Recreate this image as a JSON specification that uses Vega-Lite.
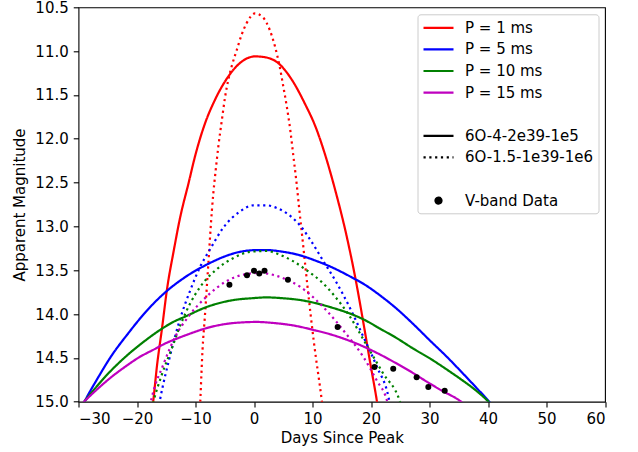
{
  "$schema": "https://vega.github.io/schema/vega-lite/v6.json",
  "width": 526.5,
  "height": 394.4,
  "autosize": {"type": "none"},
  "padding": {"left": 78.5, "top": 7.3, "right": 33, "bottom": 50.3},
  "background": "white",
  "config": {
    "view": {"stroke": "black", "strokeWidth": 1.1},
    "font": "DejaVu Sans",
    "axis": {
      "grid": false, "domain": false,
      "tickColor": "black", "tickWidth": 1.1, "tickSize": 5.25,
      "labelColor": "black", "labelFont": "DejaVu Sans", "labelFontSize": 15,
      "titleColor": "black", "titleFont": "DejaVu Sans", "titleFontSize": 15, "titleFontWeight": "normal"
    }
  },
  "datasets": {
    "curves": [
      {"P":"P = 1 ms","model":"6O-4-2e39-1e5","day":-17.6,"mag":15.2},
      {"P":"P = 1 ms","model":"6O-4-2e39-1e5","day":-17.2,"mag":14.98},
      {"P":"P = 1 ms","model":"6O-4-2e39-1e5","day":-16.6,"mag":14.60},
      {"P":"P = 1 ms","model":"6O-4-2e39-1e5","day":-15.7,"mag":14.15},
      {"P":"P = 1 ms","model":"6O-4-2e39-1e5","day":-14.9,"mag":13.73},
      {"P":"P = 1 ms","model":"6O-4-2e39-1e5","day":-13.7,"mag":13.27},
      {"P":"P = 1 ms","model":"6O-4-2e39-1e5","day":-12.6,"mag":12.89},
      {"P":"P = 1 ms","model":"6O-4-2e39-1e5","day":-11.2,"mag":12.51},
      {"P":"P = 1 ms","model":"6O-4-2e39-1e5","day":-10.0,"mag":12.18},
      {"P":"P = 1 ms","model":"6O-4-2e39-1e5","day":-8.4,"mag":11.83},
      {"P":"P = 1 ms","model":"6O-4-2e39-1e5","day":-6.7,"mag":11.56},
      {"P":"P = 1 ms","model":"6O-4-2e39-1e5","day":-4.4,"mag":11.29},
      {"P":"P = 1 ms","model":"6O-4-2e39-1e5","day":-2.1,"mag":11.12},
      {"P":"P = 1 ms","model":"6O-4-2e39-1e5","day":0.2,"mag":11.06},
      {"P":"P = 1 ms","model":"6O-4-2e39-1e5","day":1.9,"mag":11.07},
      {"P":"P = 1 ms","model":"6O-4-2e39-1e5","day":4.2,"mag":11.14},
      {"P":"P = 1 ms","model":"6O-4-2e39-1e5","day":6.5,"mag":11.33},
      {"P":"P = 1 ms","model":"6O-4-2e39-1e5","day":8.7,"mag":11.60},
      {"P":"P = 1 ms","model":"6O-4-2e39-1e5","day":10.5,"mag":11.86},
      {"P":"P = 1 ms","model":"6O-4-2e39-1e5","day":12.1,"mag":12.17},
      {"P":"P = 1 ms","model":"6O-4-2e39-1e5","day":13.9,"mag":12.59},
      {"P":"P = 1 ms","model":"6O-4-2e39-1e5","day":15.8,"mag":13.10},
      {"P":"P = 1 ms","model":"6O-4-2e39-1e5","day":17.3,"mag":13.58},
      {"P":"P = 1 ms","model":"6O-4-2e39-1e5","day":18.7,"mag":14.10},
      {"P":"P = 1 ms","model":"6O-4-2e39-1e5","day":19.9,"mag":14.57},
      {"P":"P = 1 ms","model":"6O-4-2e39-1e5","day":21.0,"mag":14.99},
      {"P":"P = 1 ms","model":"6O-4-2e39-1e5","day":21.3,"mag":15.12},

      {"P":"P = 1 ms","model":"6O-1.5-1e39-1e6","day":-9.3,"mag":15.2},
      {"P":"P = 1 ms","model":"6O-1.5-1e39-1e6","day":-9.15,"mag":14.95},
      {"P":"P = 1 ms","model":"6O-1.5-1e39-1e6","day":-8.8,"mag":14.41},
      {"P":"P = 1 ms","model":"6O-1.5-1e39-1e6","day":-8.4,"mag":14.03},
      {"P":"P = 1 ms","model":"6O-1.5-1e39-1e6","day":-7.8,"mag":13.42},
      {"P":"P = 1 ms","model":"6O-1.5-1e39-1e6","day":-7.2,"mag":12.82},
      {"P":"P = 1 ms","model":"6O-1.5-1e39-1e6","day":-6.95,"mag":12.62},
      {"P":"P = 1 ms","model":"6O-1.5-1e39-1e6","day":-6.55,"mag":12.36},
      {"P":"P = 1 ms","model":"6O-1.5-1e39-1e6","day":-6.1,"mag":12.09},
      {"P":"P = 1 ms","model":"6O-1.5-1e39-1e6","day":-5.5,"mag":11.79},
      {"P":"P = 1 ms","model":"6O-1.5-1e39-1e6","day":-4.96,"mag":11.53},
      {"P":"P = 1 ms","model":"6O-1.5-1e39-1e6","day":-4.4,"mag":11.33},
      {"P":"P = 1 ms","model":"6O-1.5-1e39-1e6","day":-3.8,"mag":11.17},
      {"P":"P = 1 ms","model":"6O-1.5-1e39-1e6","day":-2.96,"mag":10.99},
      {"P":"P = 1 ms","model":"6O-1.5-1e39-1e6","day":-2.1,"mag":10.81},
      {"P":"P = 1 ms","model":"6O-1.5-1e39-1e6","day":-1.25,"mag":10.68},
      {"P":"P = 1 ms","model":"6O-1.5-1e39-1e6","day":0.17,"mag":10.57},
      {"P":"P = 1 ms","model":"6O-1.5-1e39-1e6","day":1.6,"mag":10.62},
      {"P":"P = 1 ms","model":"6O-1.5-1e39-1e6","day":2.7,"mag":10.76},
      {"P":"P = 1 ms","model":"6O-1.5-1e39-1e6","day":3.6,"mag":10.95},
      {"P":"P = 1 ms","model":"6O-1.5-1e39-1e6","day":4.4,"mag":11.18},
      {"P":"P = 1 ms","model":"6O-1.5-1e39-1e6","day":5.0,"mag":11.40},
      {"P":"P = 1 ms","model":"6O-1.5-1e39-1e6","day":5.6,"mag":11.63},
      {"P":"P = 1 ms","model":"6O-1.5-1e39-1e6","day":6.2,"mag":11.90},
      {"P":"P = 1 ms","model":"6O-1.5-1e39-1e6","day":6.7,"mag":12.18},
      {"P":"P = 1 ms","model":"6O-1.5-1e39-1e6","day":7.3,"mag":12.52},
      {"P":"P = 1 ms","model":"6O-1.5-1e39-1e6","day":7.7,"mag":12.78},
      {"P":"P = 1 ms","model":"6O-1.5-1e39-1e6","day":8.3,"mag":13.15},
      {"P":"P = 1 ms","model":"6O-1.5-1e39-1e6","day":9.2,"mag":13.72},
      {"P":"P = 1 ms","model":"6O-1.5-1e39-1e6","day":10.2,"mag":14.30},
      {"P":"P = 1 ms","model":"6O-1.5-1e39-1e6","day":11.6,"mag":14.99},
      {"P":"P = 1 ms","model":"6O-1.5-1e39-1e6","day":11.9,"mag":15.15},

      {"P":"P = 5 ms","model":"6O-4-2e39-1e5","day":-29.5,"mag":15.07},
      {"P":"P = 5 ms","model":"6O-4-2e39-1e5","day":-28.9,"mag":14.99},
      {"P":"P = 5 ms","model":"6O-4-2e39-1e5","day":-26.7,"mag":14.73},
      {"P":"P = 5 ms","model":"6O-4-2e39-1e5","day":-24.4,"mag":14.48},
      {"P":"P = 5 ms","model":"6O-4-2e39-1e5","day":-21.5,"mag":14.22},
      {"P":"P = 5 ms","model":"6O-4-2e39-1e5","day":-18.7,"mag":13.99},
      {"P":"P = 5 ms","model":"6O-4-2e39-1e5","day":-15.3,"mag":13.76},
      {"P":"P = 5 ms","model":"6O-4-2e39-1e5","day":-11.8,"mag":13.58},
      {"P":"P = 5 ms","model":"6O-4-2e39-1e5","day":-7.9,"mag":13.43},
      {"P":"P = 5 ms","model":"6O-4-2e39-1e5","day":-4.9,"mag":13.34},
      {"P":"P = 5 ms","model":"6O-4-2e39-1e5","day":-2.4,"mag":13.29},
      {"P":"P = 5 ms","model":"6O-4-2e39-1e5","day":0.5,"mag":13.27},
      {"P":"P = 5 ms","model":"6O-4-2e39-1e5","day":2.2,"mag":13.27},
      {"P":"P = 5 ms","model":"6O-4-2e39-1e5","day":5.0,"mag":13.29},
      {"P":"P = 5 ms","model":"6O-4-2e39-1e5","day":7.9,"mag":13.33},
      {"P":"P = 5 ms","model":"6O-4-2e39-1e5","day":10.5,"mag":13.39},
      {"P":"P = 5 ms","model":"6O-4-2e39-1e5","day":13.1,"mag":13.46},
      {"P":"P = 5 ms","model":"6O-4-2e39-1e5","day":16.4,"mag":13.57},
      {"P":"P = 5 ms","model":"6O-4-2e39-1e5","day":19.3,"mag":13.68},
      {"P":"P = 5 ms","model":"6O-4-2e39-1e5","day":21.6,"mag":13.79},
      {"P":"P = 5 ms","model":"6O-4-2e39-1e5","day":24.4,"mag":13.94},
      {"P":"P = 5 ms","model":"6O-4-2e39-1e5","day":27.0,"mag":14.10},
      {"P":"P = 5 ms","model":"6O-4-2e39-1e5","day":30.2,"mag":14.31},
      {"P":"P = 5 ms","model":"6O-4-2e39-1e5","day":33.0,"mag":14.49},
      {"P":"P = 5 ms","model":"6O-4-2e39-1e5","day":35.6,"mag":14.67},
      {"P":"P = 5 ms","model":"6O-4-2e39-1e5","day":38.0,"mag":14.84},
      {"P":"P = 5 ms","model":"6O-4-2e39-1e5","day":40.2,"mag":15.0},
      {"P":"P = 5 ms","model":"6O-4-2e39-1e5","day":40.5,"mag":15.025},

      {"P":"P = 5 ms","model":"6O-1.5-1e39-1e6","day":-16.4,"mag":15.1},
      {"P":"P = 5 ms","model":"6O-1.5-1e39-1e6","day":-16.1,"mag":14.99},
      {"P":"P = 5 ms","model":"6O-1.5-1e39-1e6","day":-14.4,"mag":14.49},
      {"P":"P = 5 ms","model":"6O-1.5-1e39-1e6","day":-12.7,"mag":14.07},
      {"P":"P = 5 ms","model":"6O-1.5-1e39-1e6","day":-10.9,"mag":13.73},
      {"P":"P = 5 ms","model":"6O-1.5-1e39-1e6","day":-9.2,"mag":13.46},
      {"P":"P = 5 ms","model":"6O-1.5-1e39-1e6","day":-7.5,"mag":13.26},
      {"P":"P = 5 ms","model":"6O-1.5-1e39-1e6","day":-5.2,"mag":13.01},
      {"P":"P = 5 ms","model":"6O-1.5-1e39-1e6","day":-2.4,"mag":12.83},
      {"P":"P = 5 ms","model":"6O-1.5-1e39-1e6","day":-0.1,"mag":12.76},
      {"P":"P = 5 ms","model":"6O-1.5-1e39-1e6","day":2.2,"mag":12.76},
      {"P":"P = 5 ms","model":"6O-1.5-1e39-1e6","day":3.9,"mag":12.79},
      {"P":"P = 5 ms","model":"6O-1.5-1e39-1e6","day":6.0,"mag":12.87},
      {"P":"P = 5 ms","model":"6O-1.5-1e39-1e6","day":8.0,"mag":13.00},
      {"P":"P = 5 ms","model":"6O-1.5-1e39-1e6","day":9.6,"mag":13.15},
      {"P":"P = 5 ms","model":"6O-1.5-1e39-1e6","day":11.8,"mag":13.39},
      {"P":"P = 5 ms","model":"6O-1.5-1e39-1e6","day":14.1,"mag":13.64},
      {"P":"P = 5 ms","model":"6O-1.5-1e39-1e6","day":16.4,"mag":13.93},
      {"P":"P = 5 ms","model":"6O-1.5-1e39-1e6","day":18.7,"mag":14.26},
      {"P":"P = 5 ms","model":"6O-1.5-1e39-1e6","day":21.0,"mag":14.60},
      {"P":"P = 5 ms","model":"6O-1.5-1e39-1e6","day":23.0,"mag":14.95},
      {"P":"P = 5 ms","model":"6O-1.5-1e39-1e6","day":23.3,"mag":15.05},

      {"P":"P = 10 ms","model":"6O-4-2e39-1e5","day":-29.5,"mag":15.04},
      {"P":"P = 10 ms","model":"6O-4-2e39-1e5","day":-28.9,"mag":14.99},
      {"P":"P = 10 ms","model":"6O-4-2e39-1e5","day":-25.5,"mag":14.72},
      {"P":"P = 10 ms","model":"6O-4-2e39-1e5","day":-21.5,"mag":14.46},
      {"P":"P = 10 ms","model":"6O-4-2e39-1e5","day":-19.5,"mag":14.35},
      {"P":"P = 10 ms","model":"6O-4-2e39-1e5","day":-15.8,"mag":14.17},
      {"P":"P = 10 ms","model":"6O-4-2e39-1e5","day":-13.8,"mag":14.09},
      {"P":"P = 10 ms","model":"6O-4-2e39-1e5","day":-11.8,"mag":14.03},
      {"P":"P = 10 ms","model":"6O-4-2e39-1e5","day":-8.1,"mag":13.92},
      {"P":"P = 10 ms","model":"6O-4-2e39-1e5","day":-3.5,"mag":13.84},
      {"P":"P = 10 ms","model":"6O-4-2e39-1e5","day":-0.5,"mag":13.82},
      {"P":"P = 10 ms","model":"6O-4-2e39-1e5","day":2.2,"mag":13.81},
      {"P":"P = 10 ms","model":"6O-4-2e39-1e5","day":5.0,"mag":13.82},
      {"P":"P = 10 ms","model":"6O-4-2e39-1e5","day":7.9,"mag":13.84},
      {"P":"P = 10 ms","model":"6O-4-2e39-1e5","day":10.5,"mag":13.875},
      {"P":"P = 10 ms","model":"6O-4-2e39-1e5","day":13.0,"mag":13.92},
      {"P":"P = 10 ms","model":"6O-4-2e39-1e5","day":17.0,"mag":14.01},
      {"P":"P = 10 ms","model":"6O-4-2e39-1e5","day":18.7,"mag":14.06},
      {"P":"P = 10 ms","model":"6O-4-2e39-1e5","day":21.5,"mag":14.165},
      {"P":"P = 10 ms","model":"6O-4-2e39-1e5","day":24.4,"mag":14.275},
      {"P":"P = 10 ms","model":"6O-4-2e39-1e5","day":27.0,"mag":14.385},
      {"P":"P = 10 ms","model":"6O-4-2e39-1e5","day":30.4,"mag":14.52},
      {"P":"P = 10 ms","model":"6O-4-2e39-1e5","day":33.0,"mag":14.635},
      {"P":"P = 10 ms","model":"6O-4-2e39-1e5","day":35.5,"mag":14.75},
      {"P":"P = 10 ms","model":"6O-4-2e39-1e5","day":38.0,"mag":14.875},
      {"P":"P = 10 ms","model":"6O-4-2e39-1e5","day":40.1,"mag":15.0},
      {"P":"P = 10 ms","model":"6O-4-2e39-1e5","day":40.4,"mag":15.02},

      {"P":"P = 10 ms","model":"6O-1.5-1e39-1e6","day":-17.5,"mag":15.08},
      {"P":"P = 10 ms","model":"6O-1.5-1e39-1e6","day":-17.2,"mag":15.0},
      {"P":"P = 10 ms","model":"6O-1.5-1e39-1e6","day":-15.8,"mag":14.70},
      {"P":"P = 10 ms","model":"6O-1.5-1e39-1e6","day":-14.1,"mag":14.40},
      {"P":"P = 10 ms","model":"6O-1.5-1e39-1e6","day":-12.6,"mag":14.13},
      {"P":"P = 10 ms","model":"6O-1.5-1e39-1e6","day":-11.0,"mag":13.89},
      {"P":"P = 10 ms","model":"6O-1.5-1e39-1e6","day":-9.2,"mag":13.69},
      {"P":"P = 10 ms","model":"6O-1.5-1e39-1e6","day":-6.4,"mag":13.49},
      {"P":"P = 10 ms","model":"6O-1.5-1e39-1e6","day":-3.5,"mag":13.36},
      {"P":"P = 10 ms","model":"6O-1.5-1e39-1e6","day":-0.7,"mag":13.29},
      {"P":"P = 10 ms","model":"6O-1.5-1e39-1e6","day":2.2,"mag":13.28},
      {"P":"P = 10 ms","model":"6O-1.5-1e39-1e6","day":3.9,"mag":13.31},
      {"P":"P = 10 ms","model":"6O-1.5-1e39-1e6","day":6.5,"mag":13.39},
      {"P":"P = 10 ms","model":"6O-1.5-1e39-1e6","day":9.0,"mag":13.50},
      {"P":"P = 10 ms","model":"6O-1.5-1e39-1e6","day":11.5,"mag":13.63},
      {"P":"P = 10 ms","model":"6O-1.5-1e39-1e6","day":13.6,"mag":13.78},
      {"P":"P = 10 ms","model":"6O-1.5-1e39-1e6","day":16.4,"mag":14.03},
      {"P":"P = 10 ms","model":"6O-1.5-1e39-1e6","day":19.3,"mag":14.36},
      {"P":"P = 10 ms","model":"6O-1.5-1e39-1e6","day":22.1,"mag":14.68},
      {"P":"P = 10 ms","model":"6O-1.5-1e39-1e6","day":24.8,"mag":14.97},
      {"P":"P = 10 ms","model":"6O-1.5-1e39-1e6","day":25.1,"mag":15.03},

      {"P":"P = 15 ms","model":"6O-4-2e39-1e5","day":-29.5,"mag":15.03},
      {"P":"P = 15 ms","model":"6O-4-2e39-1e5","day":-28.9,"mag":14.99},
      {"P":"P = 15 ms","model":"6O-4-2e39-1e5","day":-26.5,"mag":14.84},
      {"P":"P = 15 ms","model":"6O-4-2e39-1e5","day":-24.4,"mag":14.72},
      {"P":"P = 15 ms","model":"6O-4-2e39-1e5","day":-22.0,"mag":14.60},
      {"P":"P = 15 ms","model":"6O-4-2e39-1e5","day":-19.8,"mag":14.50},
      {"P":"P = 15 ms","model":"6O-4-2e39-1e5","day":-17.0,"mag":14.40},
      {"P":"P = 15 ms","model":"6O-4-2e39-1e5","day":-15.3,"mag":14.34},
      {"P":"P = 15 ms","model":"6O-4-2e39-1e5","day":-13.0,"mag":14.275},
      {"P":"P = 15 ms","model":"6O-4-2e39-1e5","day":-11.0,"mag":14.225},
      {"P":"P = 15 ms","model":"6O-4-2e39-1e5","day":-8.1,"mag":14.16},
      {"P":"P = 15 ms","model":"6O-4-2e39-1e5","day":-5.0,"mag":14.115},
      {"P":"P = 15 ms","model":"6O-4-2e39-1e5","day":-2.0,"mag":14.095},
      {"P":"P = 15 ms","model":"6O-4-2e39-1e5","day":0.5,"mag":14.09},
      {"P":"P = 15 ms","model":"6O-4-2e39-1e5","day":3.0,"mag":14.10},
      {"P":"P = 15 ms","model":"6O-4-2e39-1e5","day":6.7,"mag":14.13},
      {"P":"P = 15 ms","model":"6O-4-2e39-1e5","day":10.7,"mag":14.19},
      {"P":"P = 15 ms","model":"6O-4-2e39-1e5","day":13.0,"mag":14.23},
      {"P":"P = 15 ms","model":"6O-4-2e39-1e5","day":15.3,"mag":14.28},
      {"P":"P = 15 ms","model":"6O-4-2e39-1e5","day":18.7,"mag":14.37},
      {"P":"P = 15 ms","model":"6O-4-2e39-1e5","day":21.5,"mag":14.46},
      {"P":"P = 15 ms","model":"6O-4-2e39-1e5","day":24.4,"mag":14.565},
      {"P":"P = 15 ms","model":"6O-4-2e39-1e5","day":27.0,"mag":14.665},
      {"P":"P = 15 ms","model":"6O-4-2e39-1e5","day":29.5,"mag":14.77},
      {"P":"P = 15 ms","model":"6O-4-2e39-1e5","day":32.0,"mag":14.87},
      {"P":"P = 15 ms","model":"6O-4-2e39-1e5","day":35.2,"mag":14.99},
      {"P":"P = 15 ms","model":"6O-4-2e39-1e5","day":35.6,"mag":15.01},

      {"P":"P = 15 ms","model":"6O-1.5-1e39-1e6","day":-17.8,"mag":15.05},
      {"P":"P = 15 ms","model":"6O-1.5-1e39-1e6","day":-17.5,"mag":14.96},
      {"P":"P = 15 ms","model":"6O-1.5-1e39-1e6","day":-15.4,"mag":14.56},
      {"P":"P = 15 ms","model":"6O-1.5-1e39-1e6","day":-13.4,"mag":14.25},
      {"P":"P = 15 ms","model":"6O-1.5-1e39-1e6","day":-11.1,"mag":14.02},
      {"P":"P = 15 ms","model":"6O-1.5-1e39-1e6","day":-8.1,"mag":13.80},
      {"P":"P = 15 ms","model":"6O-1.5-1e39-1e6","day":-4.7,"mag":13.625},
      {"P":"P = 15 ms","model":"6O-1.5-1e39-1e6","day":-1.8,"mag":13.55},
      {"P":"P = 15 ms","model":"6O-1.5-1e39-1e6","day":1.0,"mag":13.53},
      {"P":"P = 15 ms","model":"6O-1.5-1e39-1e6","day":3.9,"mag":13.565},
      {"P":"P = 15 ms","model":"6O-1.5-1e39-1e6","day":7.9,"mag":13.69},
      {"P":"P = 15 ms","model":"6O-1.5-1e39-1e6","day":12.4,"mag":13.96},
      {"P":"P = 15 ms","model":"6O-1.5-1e39-1e6","day":15.8,"mag":14.23},
      {"P":"P = 15 ms","model":"6O-1.5-1e39-1e6","day":18.7,"mag":14.49},
      {"P":"P = 15 ms","model":"6O-1.5-1e39-1e6","day":21.0,"mag":14.76},
      {"P":"P = 15 ms","model":"6O-1.5-1e39-1e6","day":22.7,"mag":14.98},
      {"P":"P = 15 ms","model":"6O-1.5-1e39-1e6","day":22.9,"mag":15.03}
    ],
    "vband": [
      {"day":-4.2,"mag":13.667},
      {"day":-1.2,"mag":13.557},
      {"day":0.0,"mag":13.507},
      {"day":0.9,"mag":13.538},
      {"day":1.8,"mag":13.507},
      {"day":5.8,"mag":13.61},
      {"day":14.3,"mag":14.147},
      {"day":20.6,"mag":14.603},
      {"day":23.8,"mag":14.623},
      {"day":27.8,"mag":14.722},
      {"day":29.8,"mag":14.832},
      {"day":32.6,"mag":14.874}
    ]
  },
  "encoding": {
    "x": {
      "field": "day", "type": "quantitative",
      "scale": {"domain": [-30, 60], "nice": false, "zero": false},
      "axis": {"values": [-30, -20, -10, 0, 10, 20, 30, 40, 50, 60], "format": "d", "title": "Days Since Peak", "labelPadding": 5, "titlePadding": 4}
    },
    "y": {
      "field": "mag", "type": "quantitative",
      "scale": {"domain": [10.5, 15.0], "reverse": true, "nice": false, "zero": false},
      "axis": {"values": [10.5, 11, 11.5, 12, 12.5, 13, 13.5, 14, 14.5, 15], "format": ".1f", "title": "Apparent Magnitude", "labelPadding": 5, "titlePadding": 7}
    }
  },
  "layer": [
    {
      "data": {"name": "curves"},
      "mark": {"type": "line", "clip": true, "strokeWidth": 2.2, "strokeCap": "butt", "interpolate": "monotone"},
      "encoding": {
        "color": {
          "field": "P", "type": "nominal",
          "scale": {
            "domain": ["P = 1 ms", "P = 5 ms", "P = 10 ms", "P = 15 ms", " ", "6O-4-2e39-1e5", "6O-1.5-1e39-1e6", "  ", "V-band Data"],
            "range": ["#ff0000", "#0000ff", "#008000", "#bf00bf", "rgba(0,0,0,0)", "#000000", "#000000", "rgba(0,0,0,0)", "#000000"]
          },
          "legend": {
            "title": null,
            "orient": "top-right",
            "offset": 7,
            "padding": 4.5,
            "fillColor": "rgba(255,255,255,0.8)",
            "strokeColor": "#cccccc",
            "cornerRadius": 3,
            "symbolSize": 225,
            "symbolStrokeWidth": 2.2,
            "labelFont": "DejaVu Sans",
            "labelFontSize": 15,
            "labelColor": "black",
            "labelOffset": 25,
            "labelLimit": 300,
            "rowPadding": 4.6,
            "encode": {
              "symbols": {
                "update": {
                  "shape": {"signal": "datum.value === 'V-band Data' ? 'M1.4,0A0.4,0.4,0,1,1,0.6,0A0.4,0.4,0,1,1,1.4,0Z' : 'M-1,0H3'"},
                  "strokeDash": {"signal": "datum.value === '6O-1.5-1e39-1e6' ? [2.2, 3.6] : [1, 0]"},
                  "fill": {"signal": "datum.value === 'V-band Data' ? '#000000' : 'transparent'"},
                  "stroke": {"signal": "datum.value === 'V-band Data' ? 'transparent' : scale('color', datum.value)"},
                  "strokeWidth": {"value": 2.2},
                  "opacity": {"value": 1}
                }
              }
            }
          }
        },
        "strokeDash": {
          "field": "model", "type": "nominal",
          "scale": {"domain": ["6O-4-2e39-1e5", "6O-1.5-1e39-1e6"], "range": [[1, 0], [2.2, 3.6]]},
          "legend": null
        }
      }
    },
    {
      "data": {"name": "vband"},
      "mark": {"type": "point", "filled": true, "size": 36, "opacity": 1, "clip": true},
      "encoding": {
        "color": {"datum": "V-band Data", "type": "nominal"}
      }
    }
  ]
}
